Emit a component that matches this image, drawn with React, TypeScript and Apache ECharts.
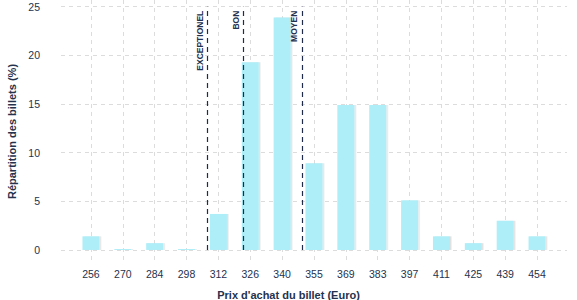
import React, { useEffect, useRef } from "react";
import * as echarts from "echarts";

const priceLabels = ["256", "270", "284", "298", "312", "326", "340", "355", "369", "383", "397", "411", "425", "439", "454"];
const shares = [1.4, 0.1, 0.7, 0.1, 3.7, 19.3, 23.9, 8.9, 14.9, 14.9, 5.1, 1.4, 0.7, 3.0, 1.4];
const yTicks = [0, 5, 10, 15, 20, 25];
const thresholdNames = ["EXCEPTIONEL", "BON", "MOYEN"];
// threshold positions expressed in bin units (0 = first bin, 1 = next bin...)
const thresholdBins = [3.65, 4.78, 6.62];

const TEXT = "#25324d";
const FONT = "'Liberation Sans', Arial, sans-serif";

export default function App() {
  const ref = useRef<HTMLDivElement>(null);
  useEffect(() => {
    document.body.style.margin = "0";
    if (!ref.current) return;
    const chart = echarts.init(ref.current, null, { renderer: "svg" });
    const idx = priceLabels.map((_, i) => i);
    chart.setOption({
      animation: false,
      textStyle: { fontFamily: FONT },
      grid: { left: 61, right: 10, top: 0, bottom: 37, containLabel: false, outerBoundsMode: "none" },
      title: {
        text: "Prix d'achat du billet (Euro)",
        left: "center",
        top: 284,
        textStyle: { fontSize: 11, fontWeight: "bold", color: TEXT, fontFamily: FONT },
      },
      xAxis: {
        type: "value",
        min: -0.94,
        max: 14.94,
        axisLine: { show: false },
        axisTick: { show: false, customValues: idx },
        axisLabel: {
          customValues: idx,
          formatter: (v: number) => priceLabels[Math.round(v)] ?? "",
          color: TEXT,
          fontSize: 10.5,
          margin: 5,
          fontFamily: FONT,
        },
        splitLine: { show: true, lineStyle: { color: "#dcdcdc", type: [4, 4], width: 1 } },
      },
      yAxis: {
        type: "value",
        min: -1.34,
        max: 25.69,
        name: "Répartition des billets (%)",
        nameLocation: "middle",
        nameGap: 43,
        nameTextStyle: { fontSize: 11, fontWeight: "bold", color: TEXT, fontFamily: FONT },
        axisLine: { show: false },
        axisTick: { show: false, customValues: yTicks },
        axisLabel: { customValues: yTicks, color: TEXT, fontSize: 10.5, margin: 21, fontFamily: FONT },
        splitLine: { show: true, lineStyle: { color: "#dcdcdc", type: [4, 4], width: 1 } },
      },
      series: [
        {
          type: "bar",
          data: shares.map((v, i) => [i, v]),
          barWidth: 17,
          itemStyle: {
            color: "#aeeef8",
            shadowColor: "rgba(0,0,0,0.12)",
            shadowOffsetX: 1.5,
            shadowBlur: 0,
          },
          markLine: {
            silent: true,
            symbol: "none",
            z: 5,
            lineStyle: { color: "#1f2b47", type: [5, 4], width: 1.2 },
            label: {
              show: true,
              position: "insideEndTop",
              distance: [4, 3],
              color: TEXT,
              fontSize: 8.5,
              fontWeight: "bold",
              fontFamily: FONT,
              formatter: (p: any) => p.name,
            },
            data: thresholdBins.map((b, i) => [
              { name: thresholdNames[i], coord: [b, 0] },
              { coord: [b, 25] },
            ]),
          },
        },
      ],
    });
    return () => chart.dispose();
  }, []);
  return <div ref={ref} style={{ width: 577, height: 300 }} />;
}
